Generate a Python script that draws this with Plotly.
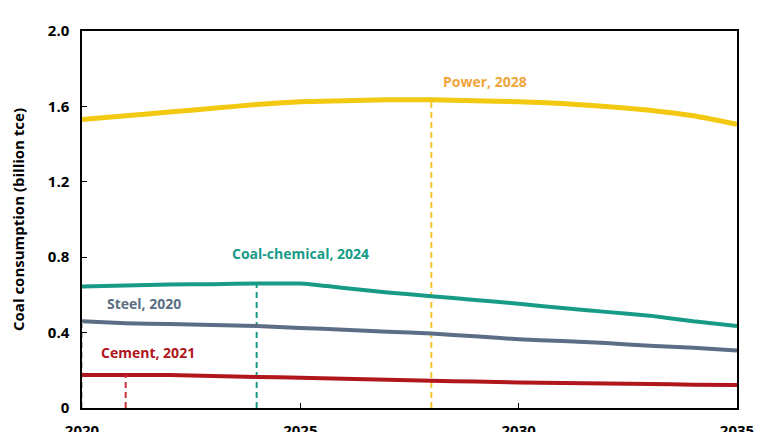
import plotly.graph_objects as go

years = list(range(2020, 2036))
power = [1.53, 1.55, 1.57, 1.59, 1.61, 1.625, 1.63, 1.635, 1.635, 1.63, 1.625, 1.615, 1.60, 1.58, 1.55, 1.505]
coal_chem = [0.645, 0.65, 0.655, 0.657, 0.66, 0.66, 0.637, 0.613, 0.593, 0.573, 0.553, 0.53, 0.51, 0.49, 0.46, 0.435]
steel = [0.46, 0.45, 0.445, 0.44, 0.435, 0.425, 0.415, 0.405, 0.395, 0.38, 0.365, 0.355, 0.345, 0.33, 0.32, 0.305]
cement = [0.175, 0.175, 0.175, 0.17, 0.165, 0.16, 0.155, 0.15, 0.145, 0.14, 0.135, 0.132, 0.13, 0.127, 0.124, 0.122]

series = [
    ("Power", power, 2028, "#F2C811", "#F5C531", "#F0A53A", 2029.22, 1.73, 5),
    ("Coal-chemical", coal_chem, 2024, "#179B87", "#179B87", "#179B87", 2025.0, 0.822, 4),
    ("Steel", steel, 2020, "#5B6E85", "#BFBFBF", "#5B6E85", 2021.42, 0.557, 4),
    ("Cement", cement, 2021, "#B0161C", "#C8323A", "#B0161C", 2021.5, 0.292, 4),
]

fig = go.Figure()
for name, vals, peak, col, dcol, tcol, ax, ay, w in series:
    fig.add_trace(go.Scatter(x=years, y=vals, mode="lines", line=dict(color=col, width=w, shape="spline", smoothing=0.4),
                             name=name, showlegend=False))
    pv = vals[years.index(peak)]
    fig.add_trace(go.Scatter(x=[peak, peak], y=[0, pv], mode="lines",
                             line=dict(color=dcol, width=2, dash="6px,4px"), showlegend=False))
    fig.add_annotation(x=ax, y=ay, text=f"<b>{name}, {peak}</b>", showarrow=False,
                       font=dict(family="Open Sans", size=14, color=tcol))

fig.update_layout(
    width=768, height=432,
    margin=dict(l=74, r=39, t=23, b=32),
    plot_bgcolor="white", paper_bgcolor="white",
    font=dict(family="Open Sans", color="black"),
)
fig.update_xaxes(range=[2020, 2035], tickvals=[2020, 2025, 2030, 2035],
                 ticktext=["<b>2020</b>", "<b>2025</b>", "<b>2030</b>", "<b>2035</b>"],
                 showgrid=False, zeroline=False, showline=True, linecolor="black", linewidth=1.5,
                 mirror=True, ticks="inside", ticklen=5, tickcolor="black", automargin=False,
                 tickfont=dict(size=15, color="black"), ticklabelstandoff=8)
fig.update_yaxes(range=[0, 2.0], tickvals=[0, 0.4, 0.8, 1.2, 1.6, 2.0],
                 ticktext=["<b>0</b>", "<b>0.4</b>", "<b>0.8</b>", "<b>1.2</b>", "<b>1.6</b>", "<b>2.0</b>"],
                 showgrid=False, zeroline=False, showline=True, linecolor="black", linewidth=1.5,
                 mirror=True, ticks="inside", ticklen=5, tickcolor="black", automargin=False,
                 tickfont=dict(size=15, color="black"), ticklabelstandoff=8,
                 title=dict(text="<b>Coal consumption (billion tce)</b>", font=dict(size=15, color="black"), standoff=28))

fig.write_html("out.html")
